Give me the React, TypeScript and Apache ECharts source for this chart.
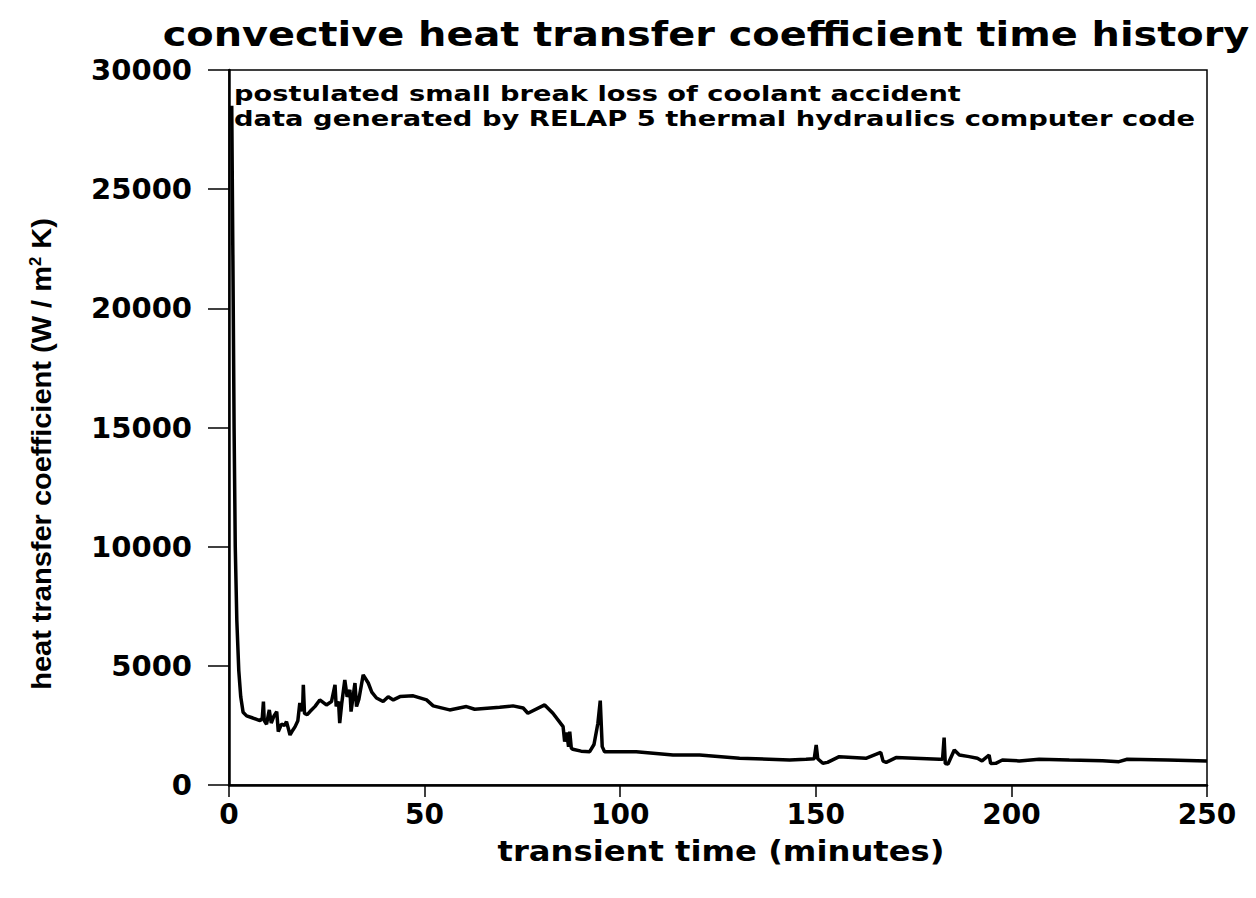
import React, { useEffect, useRef } from "react";
import * as echarts from "echarts";

const titleText = "convective heat transfer coefficient time history";
const noteLine1 = "postulated small break loss of coolant accident";
const noteLine2 = "data generated by RELAP 5 thermal hydraulics computer code";
const xAxisTitle = "transient time (minutes)";
const yAxisTitleMain = "heat transfer coefficient (W / m";
const yAxisTitleSup = "2";
const yAxisTitleEnd = " K)";

const xTicks = [0, 50, 100, 150, 200, 250];
const yTicks = [0, 5000, 10000, 15000, 20000, 25000, 30000];

// transient time (minutes)
const times = [
  0.7, 1.0, 1.3, 1.6, 2.0, 2.5, 3.0, 3.6, 4.5, 6.1, 7.9, 8.5, 8.8, 9.0, 9.6, 10.3, 10.8, 11.5, 12.2, 12.6,
  13.4, 14.2, 14.7, 15.6, 16.3, 16.9, 17.6, 18.1, 18.8, 19.0, 19.3, 20.0, 20.7, 22.0, 23.2, 24.9, 26.2, 27.1, 27.4, 28.0,
  28.3, 28.8, 29.6, 30.2, 30.9, 31.2, 31.8, 32.2, 32.6, 33.2, 34.3, 35.6, 36.5, 37.7, 39.4, 40.7, 42.0, 43.7, 47.1, 50.5,
  52.2, 56.4, 60.7, 62.8, 69.2, 72.6, 75.2, 76.4, 80.7, 82.8, 85.4, 85.8, 86.3, 86.8, 87.1, 87.5, 87.9, 90.0, 92.2, 93.3,
  94.3, 94.9, 95.4, 96.0, 104.1, 113.5, 120.3, 130.5, 143.3, 147.5, 149.6, 150.1, 150.5, 151.8, 153.0, 156.0, 162.8, 166.6, 167.2, 168.0,
  170.5, 181.6, 182.4, 182.8, 183.1, 183.8, 185.4, 186.7, 189.2, 191.3, 192.5, 194.3, 194.7, 196.0, 197.7, 202.0, 207.1, 214.8, 223.3, 227.5,
  229.6, 240.0, 250.0,
];

// heat transfer coefficient (W / m2 K)
const coefficients = [
  28500, 22000, 15000, 10000, 6900, 4800, 3700, 3050, 2900, 2810, 2700, 2800, 3500, 2700, 2550, 3150, 2600, 2900, 3080, 2240,
  2550, 2500, 2660, 2100, 2300, 2450, 2700, 3440, 3100, 4200, 3000, 2950, 3080, 3300, 3570, 3360, 3500, 4200, 3300, 3500,
  2600, 3400, 4410, 3700, 3990, 3080, 3800, 4280, 3290, 3600, 4620, 4280, 3900, 3650, 3500, 3700, 3570, 3710, 3740, 3570,
  3320, 3150, 3290, 3180, 3260, 3320, 3230, 3010, 3360, 3010, 2450, 1820, 2200, 1600, 2240, 1550, 1500, 1420, 1400, 1700,
  2590, 3540, 1610, 1400, 1400, 1260, 1260, 1120, 1050, 1080, 1100, 1680, 1100, 910, 950, 1190, 1120, 1370, 1000, 950,
  1150, 1080, 1080, 1990, 900, 880, 1470, 1260, 1190, 1120, 1010, 1260, 900, 910, 1050, 1010, 1080, 1050, 1020, 980,
  1080, 1050, 1010,
];

const FONT_WIDE = "'DejaVu Sans', 'Liberation Sans', sans-serif";
const FONT_NARROW = "'Liberation Sans', Arial, sans-serif";

function measure(text: string, size: number, family: string, weight = "bold"): number {
  const canvas = document.createElement("canvas");
  const ctx = canvas.getContext("2d");
  if (!ctx) return text.length * size * 0.6;
  ctx.font = `${weight} ${size}px ${family}`;
  return ctx.measureText(text).width;
}

export default function App() {
  const ref = useRef<HTMLDivElement>(null);

  useEffect(() => {
    if (!ref.current) return;
    const chart = echarts.init(ref.current, undefined, { renderer: "svg" });

    const seriesData = times.map((t, i) => [t, coefficients[i]]);

    const titleSize = 34;
    const titleScale = 1087 / measure(titleText, titleSize, FONT_WIDE);
    const noteSize = 22;
    const note1Scale = 727 / measure(noteLine1, noteSize, FONT_WIDE);
    const note2Scale = 962 / measure(noteLine2, noteSize, FONT_WIDE);
    const xNameSize = 28;
    const xNameScale = 447 / measure(xAxisTitle, xNameSize, FONT_WIDE);
    const yNameSize = 28;
    const yNameW =
      measure(yAxisTitleMain, yNameSize, FONT_NARROW) +
      measure(yAxisTitleSup, 16, FONT_NARROW) +
      measure(yAxisTitleEnd, yNameSize, FONT_NARROW);
    const yNameScale = 472 / yNameW;

    chart.setOption({
      animation: false,
      backgroundColor: "#ffffff",
      grid: {
        left: 229,
        right: 49,
        top: 70,
        bottom: 113,
        show: true,
        borderColor: "#000",
        borderWidth: 1.5,
        backgroundColor: "transparent",
      },
      xAxis: {
        type: "value",
        min: xTicks[0],
        max: xTicks[xTicks.length - 1],
        interval: 50,
        axisLine: { show: true, lineStyle: { color: "#000", width: 2.5 } },
        axisTick: { show: true, inside: false, length: 12, lineStyle: { color: "#000", width: 1.5 } },
        splitLine: { show: false },
        axisLabel: {
          color: "#000",
          fontFamily: FONT_WIDE,
          fontWeight: "bold",
          fontSize: 28,
          margin: 15,
          formatter: (v: number) => String(v),
        },
      },
      yAxis: {
        type: "value",
        min: yTicks[0],
        max: yTicks[yTicks.length - 1],
        interval: 5000,
        axisLine: { show: true, lineStyle: { color: "#000", width: 2.5 } },
        axisTick: { show: true, inside: false, length: 21, lineStyle: { color: "#000", width: 1.5 } },
        splitLine: { show: false },
        axisLabel: {
          color: "#000",
          fontFamily: FONT_WIDE,
          fontWeight: "bold",
          fontSize: 29,
          margin: 37,
          formatter: (v: number) => String(v),
        },
      },
      series: [
        {
          type: "line",
          data: seriesData,
          showSymbol: false,
          symbol: "none",
          lineStyle: { color: "#000", width: 3.5 },
          z: 3,
        },
      ],
      graphic: [
        {
          type: "text",
          x: 706,
          y: 35,
          scaleX: titleScale,
          style: {
            text: titleText,
            fontFamily: FONT_WIDE,
            fontWeight: "bold",
            fontSize: titleSize,
            fill: "#000",
            align: "center",
            verticalAlign: "middle",
          },
        },
        {
          type: "text",
          x: 234,
          y: 93,
          scaleX: note1Scale,
          z: 10,
          style: {
            text: noteLine1,
            fontFamily: FONT_WIDE,
            fontWeight: "bold",
            fontSize: noteSize,
            fill: "#000",
            align: "left",
            verticalAlign: "middle",
          },
        },
        {
          type: "text",
          x: 234,
          y: 118,
          scaleX: note2Scale,
          z: 10,
          style: {
            text: noteLine2,
            fontFamily: FONT_WIDE,
            fontWeight: "bold",
            fontSize: noteSize,
            fill: "#000",
            align: "left",
            verticalAlign: "middle",
          },
        },
        {
          type: "text",
          x: 721,
          y: 851,
          scaleX: xNameScale,
          style: {
            text: xAxisTitle,
            fontFamily: FONT_WIDE,
            fontWeight: "bold",
            fontSize: xNameSize,
            fill: "#000",
            align: "center",
            verticalAlign: "middle",
          },
        },
        {
          type: "text",
          x: 41,
          y: 454,
          rotation: Math.PI / 2,
          scaleX: yNameScale,
          style: {
            text: `{m|${yAxisTitleMain}}{s|${yAxisTitleSup}}{m|${yAxisTitleEnd}}`,
            fill: "#000",
            align: "center",
            verticalAlign: "middle",
            rich: {
              m: {
                fontFamily: FONT_NARROW,
                fontWeight: "bold",
                fontSize: yNameSize,
                fill: "#000",
                verticalAlign: "bottom",
              },
              s: {
                fontFamily: FONT_NARROW,
                fontWeight: "bold",
                fontSize: 16,
                fill: "#000",
                verticalAlign: "top",
              },
            },
          },
        },
      ],
    });

    return () => {
      chart.dispose();
    };
  }, []);

  return <div ref={ref} style={{ width: 1256, height: 898, position: "absolute", left: 0, top: 0 }} />;
}
